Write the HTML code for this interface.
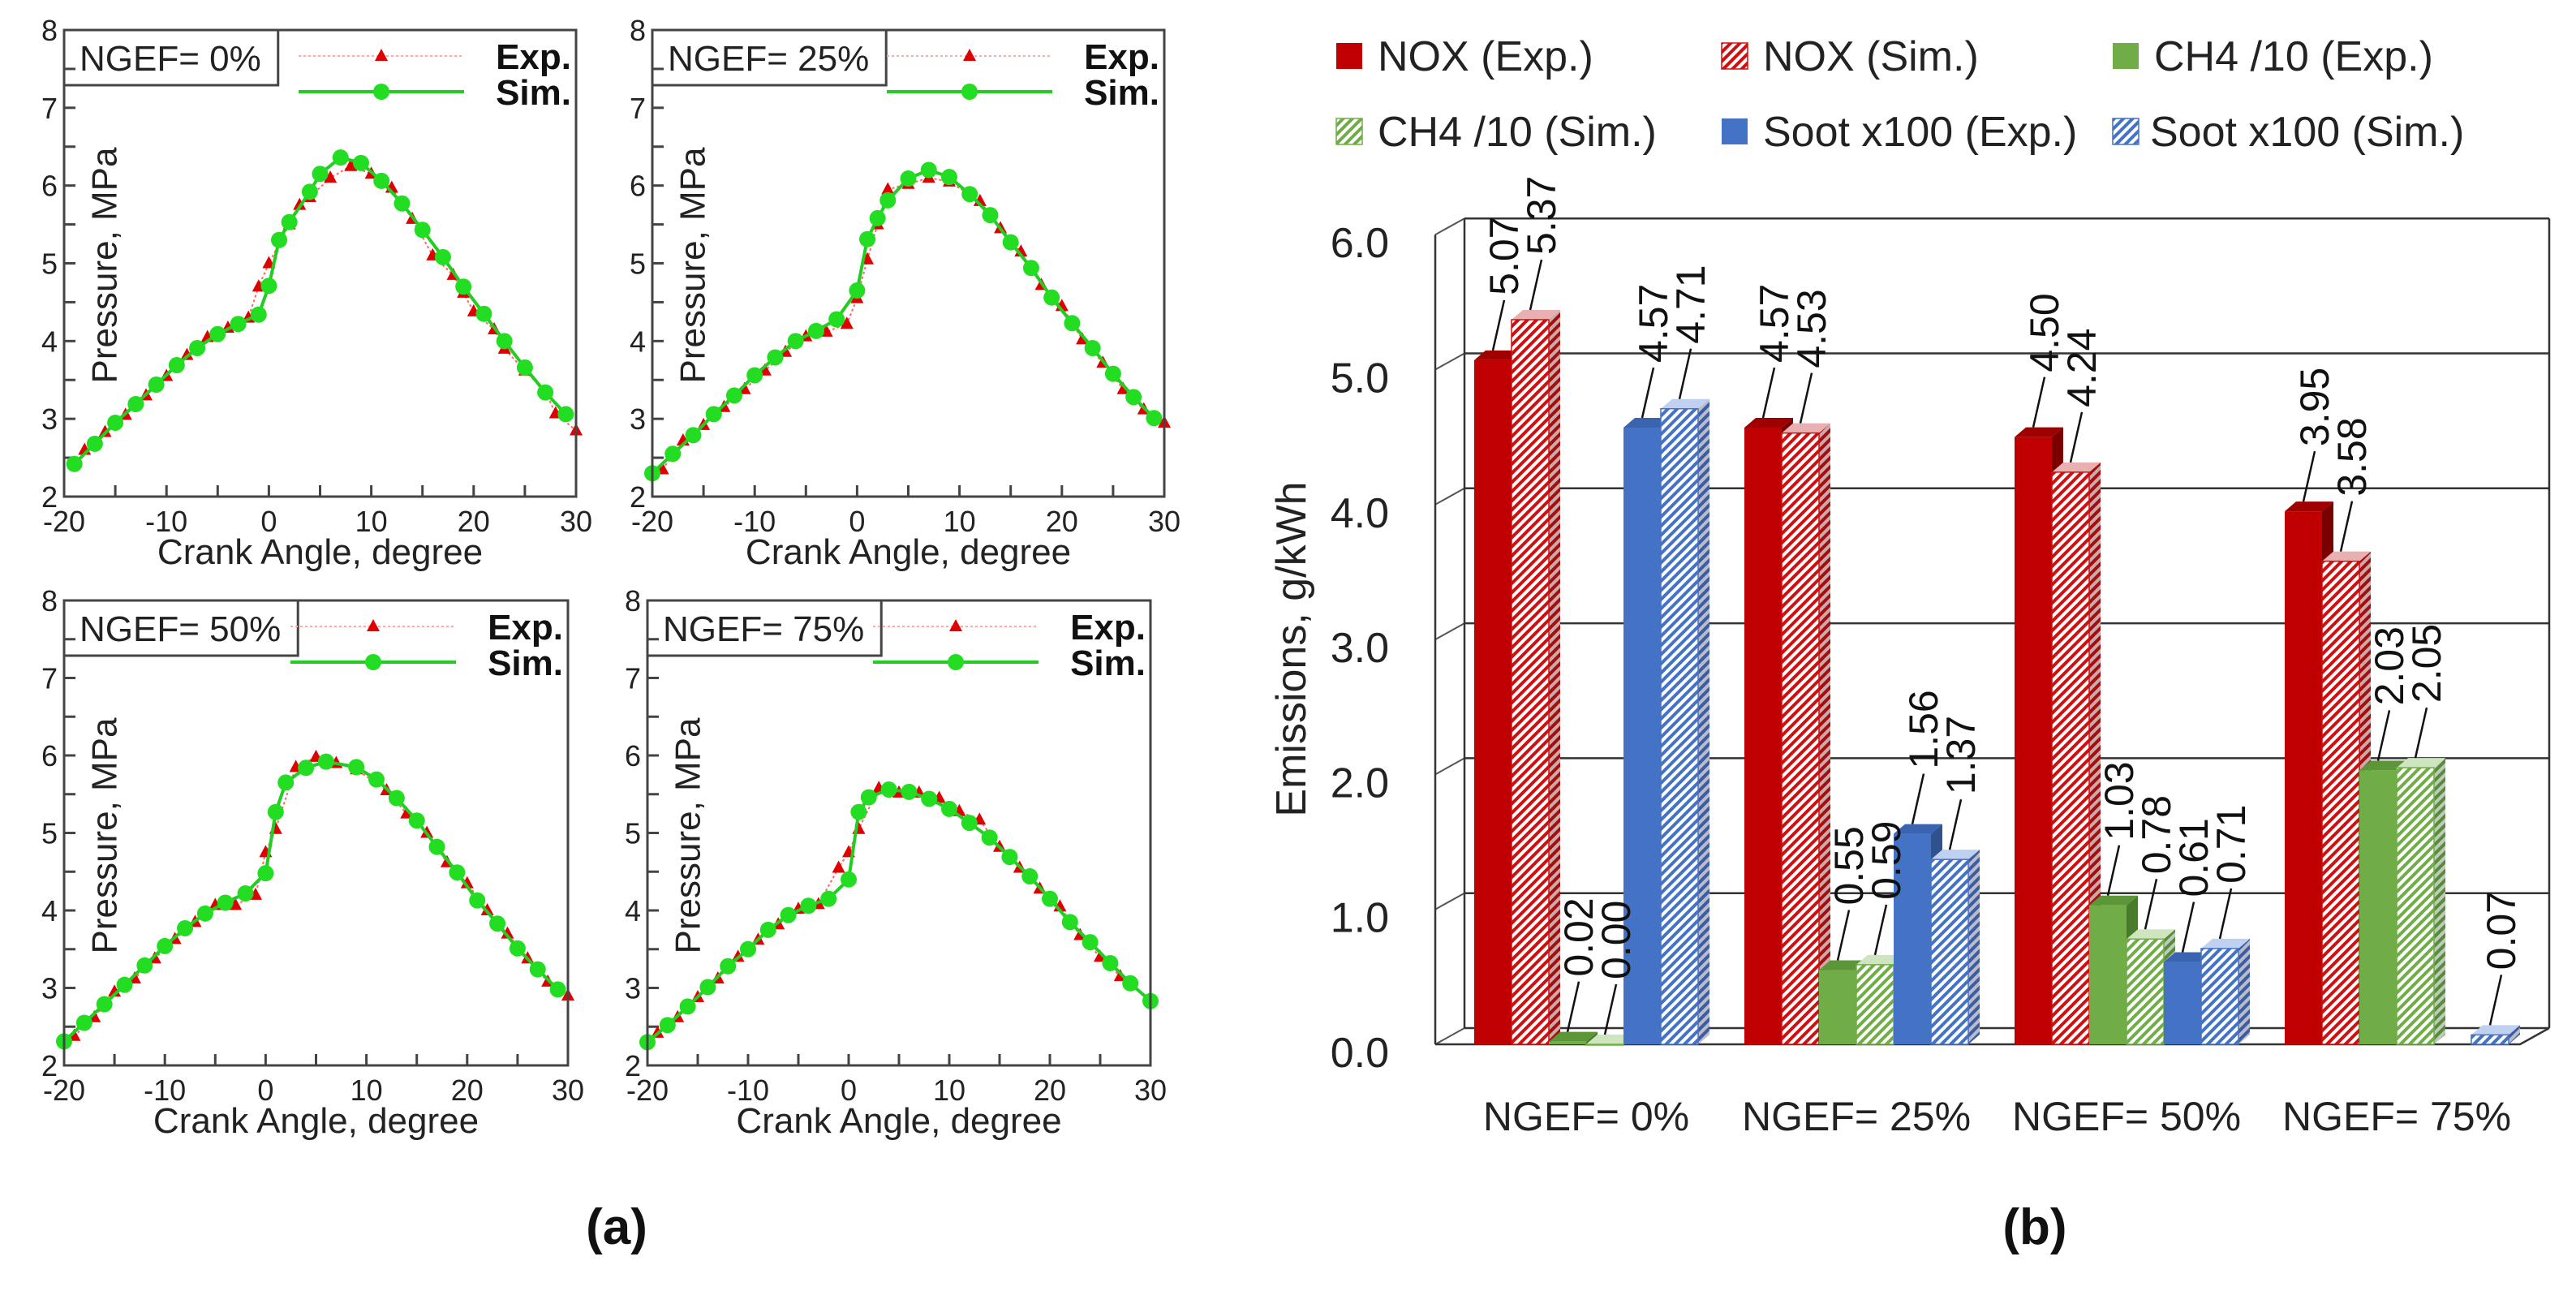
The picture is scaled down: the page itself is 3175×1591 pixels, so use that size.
<!DOCTYPE html>
<html><head><meta charset="utf-8"><style>
html,body{margin:0;padding:0;background:#fff;}
svg{display:block;}
text{font-family:"Liberation Sans",sans-serif;}
</style></head><body>
<svg id="s" width="3175" height="1591" viewBox="0 0 3175 1591" xmlns="http://www.w3.org/2000/svg">
<defs>
<pattern id="hr" patternUnits="userSpaceOnUse" width="8" height="8" patternTransform="rotate(45)"><rect width="8" height="8" fill="#fff"/><rect width="4" height="8" fill="#d01010"/></pattern>
<pattern id="hg" patternUnits="userSpaceOnUse" width="8" height="8" patternTransform="rotate(45)"><rect width="8" height="8" fill="#fff"/><rect width="4" height="8" fill="#70ad47"/></pattern>
<pattern id="hb" patternUnits="userSpaceOnUse" width="8" height="8" patternTransform="rotate(45)"><rect width="8" height="8" fill="#fff"/><rect width="4" height="8" fill="#4472c4"/></pattern>
<pattern id="hrs" patternUnits="userSpaceOnUse" width="8" height="8" patternTransform="rotate(45)"><rect width="8" height="8" fill="#caa"/><rect width="4" height="8" fill="#a01010"/></pattern>
<pattern id="hgs" patternUnits="userSpaceOnUse" width="8" height="8" patternTransform="rotate(45)"><rect width="8" height="8" fill="#bcb"/><rect width="4" height="8" fill="#5a8a3a"/></pattern>
<pattern id="hbs" patternUnits="userSpaceOnUse" width="8" height="8" patternTransform="rotate(45)"><rect width="8" height="8" fill="#bbc"/><rect width="4" height="8" fill="#3a5ea0"/></pattern>
</defs>
<g id="left"></g>
<g id="right"></g>
<text x="760" y="1533" font-size="62" font-weight="bold" text-anchor="middle" fill="#111">(a)</text>
<text x="2508" y="1533" font-size="62" font-weight="bold" text-anchor="middle" fill="#111">(b)</text>
</svg>
<script>
// ---------- panel (a) data ----------
const simX0 = [-19,-17,-15,-13,-11,-9,-7,-5,-3,-1,0,1,2,4,5,7,9,11,13,15,17,19,21,23,25,27,29];
const simY0 = [2.42,2.68,2.95,3.19,3.44,3.69,3.91,4.09,4.22,4.34,4.71,5.30,5.53,5.92,6.15,6.36,6.29,6.06,5.77,5.43,5.08,4.70,4.35,4.00,3.66,3.34,3.06];
const expX0 = [-18,-16,-14,-12,-10,-8,-6,-4,-2,-1,0,2,3,4,6,8,10,12,14,16,18,19,20,22,23,25,27,28,30];
const expY0 = [2.60,2.83,3.05,3.30,3.55,3.82,4.05,4.17,4.30,4.70,5.00,5.50,5.75,5.85,6.10,6.25,6.15,5.97,5.57,5.10,4.85,4.62,4.38,4.15,3.90,3.62,3.35,3.07,2.85];
const simX1 = [-20,-18,-16,-14,-12,-10,-8,-6,-4,-2,0,1,2,3,5,7,9,11,13,15,17,19,21,23,25,27,29];
const simY1 = [2.30,2.55,2.79,3.06,3.30,3.56,3.79,4.00,4.13,4.28,4.65,5.31,5.58,5.81,6.09,6.20,6.11,5.89,5.62,5.27,4.94,4.56,4.23,3.91,3.58,3.28,3.01];
const expX1 = [-19,-17,-15,-13,-11,-9,-7,-5,-3,-1,0,1,2,3,5,7,9,12,14,16,18,20,22,24,26,28,30];
const expY1 = [2.35,2.72,2.92,3.15,3.38,3.62,3.86,4.06,4.12,4.22,4.55,5.05,5.50,5.95,6.02,6.10,6.05,5.80,5.45,5.15,4.72,4.45,4.02,3.72,3.38,3.12,2.95];
const simX2 = [-20,-18,-16,-14,-12,-10,-8,-6,-4,-2,0,1,2,4,6,9,11,13,15,17,19,21,23,25,27,29];
const simY2 = [2.31,2.55,2.79,3.04,3.29,3.54,3.77,3.96,4.10,4.22,4.48,5.27,5.65,5.84,5.92,5.85,5.69,5.45,5.16,4.82,4.49,4.13,3.83,3.51,3.24,2.98];
const expX2 = [-19,-17,-15,-13,-11,-9,-7,-5,-3,-1,0,1,3,5,7,9,12,14,16,18,20,22,24,26,28,30];
const expY2 = [2.38,2.62,2.95,3.12,3.38,3.63,3.85,4.07,4.07,4.20,4.75,5.05,5.85,5.98,5.90,5.82,5.55,5.25,5.00,4.62,4.35,4.00,3.70,3.38,3.08,2.90];
const simX3 = [-20,-18,-16,-14,-12,-10,-8,-6,-4,-2,0,1,2,4,6,8,10,12,14,16,18,20,22,24,26,28,30];
const simY3 = [2.30,2.52,2.76,3.01,3.28,3.50,3.75,3.94,4.06,4.15,4.40,5.27,5.46,5.56,5.53,5.44,5.31,5.13,4.94,4.69,4.44,4.15,3.85,3.59,3.32,3.06,2.83];
const expX3 = [-19,-17,-15,-13,-11,-9,-7,-5,-3,-1,0,1,3,5,7,9,11,13,15,17,19,21,23,25,27];
const expY3 = [2.42,2.62,2.88,3.12,3.40,3.62,3.82,4.02,4.08,4.55,4.75,5.05,5.58,5.52,5.52,5.45,5.28,5.17,4.82,4.55,4.28,4.05,3.68,3.40,3.15];
const xTicks = [-20,-10,0,10,20,30];
const yTicks = [2,3,4,5,6,7,8];

// ---------- panel (b) data ----------
const groups = ["NGEF= 0%","NGEF= 25%","NGEF= 50%","NGEF= 75%"];
const seriesNames = ["NOX (Exp.)","NOX (Sim.)","CH4 /10 (Exp.)","CH4 /10 (Sim.)","Soot x100 (Exp.)","Soot x100 (Sim.)"];
const noxExp = [5.07,4.57,4.50,3.95];
const noxSim = [5.37,4.53,4.24,3.58];
const ch4Exp = [0.02,0.55,1.03,2.03];
const ch4Sim = [0.00,0.59,0.78,2.05];
const sootExp = [4.57,1.56,0.61,null];
const sootSim = [4.71,1.37,0.71,0.07];
const eTicks = [0,1,2,3,4,5,6];

const NS="http://www.w3.org/2000/svg";
function mk(tag, attrs, parent){const e=document.createElementNS(NS,tag);for(const k in attrs)e.setAttribute(k,attrs[k]);parent.appendChild(e);return e;}

function pressurePlot(P){
  const g=mk('g',{},document.getElementById('left'));
  
  
  const X=a=>P.x0+(a+20)/50*(P.x1-P.x0);
  const Y=p=>P.y1-(p-2)/6*(P.y1-P.y0);
  for(let a=-20;a<=30;a+=5){const t=mk('line',{x1:X(a),x2:X(a),y1:P.y1,y2:P.y1-14,stroke:'#444','stroke-width':3},g);
    
    }
  for(let p=2;p<=8;p+=0.5){const t=mk('line',{x1:P.x0,x2:P.x0+14,y1:Y(p),y2:Y(p),stroke:'#444','stroke-width':3},g);
    
    }
  xTicks.forEach(a=>{const t=mk('text',{x:X(a),y:P.y1+43,'font-size':36,'text-anchor':'middle',fill:'#222'},g);t.textContent=a;
    
    });
  yTicks.forEach(p=>{const t=mk('text',{x:P.x0-8,y:Y(p)+13,'font-size':36,'text-anchor':'end',fill:'#222'},g);t.textContent=p;
    
    });
  const ePts=P.ex.map((a,i)=>X(a)+','+Y(P.ey[i])).join(' ');
  const el=mk('polyline',{points:ePts,fill:'none',stroke:'#ff6666','stroke-width':2,'stroke-dasharray':'3 3'},g);
  
  
  P.ex.forEach((a,i)=>{const cx=X(a),cy=Y(P.ey[i]);const t=mk('polygon',{points:`${cx},${cy-9} ${cx-8},${cy+6} ${cx+8},${cy+6}`,fill:'#e00000'},g);
    
    });
  const sPts=P.sx.map((a,i)=>X(a)+','+Y(P.sy[i])).join(' ');
  const sl=mk('polyline',{points:sPts,fill:'none',stroke:'#22cc22','stroke-width':4},g);
  
  
  P.sx.forEach((a,i)=>{const c=mk('circle',{cx:X(a),cy:Y(P.sy[i]),r:10,fill:'#22dd22'},g);
    
    });
  const fr=mk('rect',{x:P.x0,y:P.y0,width:P.x1-P.x0,height:P.y1-P.y0,fill:'none',stroke:'#444','stroke-width':3},g);
  
  
  const lt=mk('text',{x:P.x0+19,y:P.y0+50,'font-size':44,fill:'#222'},g);lt.textContent=P.label;
  
  
  const w=lt.getComputedTextLength()+40;
  const lb=mk('rect',{x:P.x0,y:P.y0,width:w,height:68,fill:'none',stroke:'#444','stroke-width':3},g);
  
  
  const le=P.x1-138, ls=le-204, lm=(le+ls)/2;
  const l1=mk('line',{x1:ls,x2:le,y1:P.y0+32,y2:P.y0+32,stroke:'#ffaaaa','stroke-width':2,'stroke-dasharray':'3 3'},g);
  
  
  const lp=mk('polygon',{points:`${lm},${P.y0+23} ${lm-8},${P.y0+38} ${lm+8},${P.y0+38}`,fill:'#e00000'},g);
  
  
  const l2=mk('line',{x1:ls,x2:le,y1:P.y0+76,y2:P.y0+76,stroke:'#22cc22','stroke-width':4},g);
  
  
  const lc=mk('circle',{cx:lm,cy:P.y0+76,r:10,fill:'#22dd22'},g);
  
  
  const t1=mk('text',{x:P.x1-6,y:P.y0+48,'font-size':44,'font-weight':'bold','text-anchor':'end',fill:'#111'},g);t1.textContent='Exp.';
  
  
  const t2=mk('text',{x:P.x1-6,y:P.y0+92,'font-size':44,'font-weight':'bold','text-anchor':'end',fill:'#111'},g);t2.textContent='Sim.';
  
  
  const xt=mk('text',{x:(P.x0+P.x1)/2,y:P.y1+83,'font-size':44,'text-anchor':'middle',fill:'#222'},g);xt.textContent='Crank Angle, degree';
  
  
  const cy=P.y0+290, cx=P.x0+50;
  const yt=mk('text',{x:cx,y:cy,'font-size':44,'text-anchor':'middle',fill:'#222',transform:`rotate(-90 ${cx} ${cy})`,'dominant-baseline':'central'},g);yt.textContent='Pressure, MPa';
  
  
}
pressurePlot({name:'plot-ngef-0',x0:79,x1:710,y0:37,y1:612,label:'NGEF= 0%',sx:simX0,sy:simY0,ex:expX0,ey:expY0});
pressurePlot({name:'plot-ngef-25',x0:804,x1:1435,y0:37,y1:612,label:'NGEF= 25%',sx:simX1,sy:simY1,ex:expX1,ey:expY1});
pressurePlot({name:'plot-ngef-50',x0:79,x1:700,y0:740,y1:1313,label:'NGEF= 50%',sx:simX2,sy:simY2,ex:expX2,ey:expY2});
pressurePlot({name:'plot-ngef-75',x0:798,x1:1418,y0:740,y1:1313,label:'NGEF= 75%',sx:simX3,sy:simY3,ex:expX3,ey:expY3});

// ---------- panel (b) ----------
(function(){
  const g=document.getElementById('right');
  const base=1287, k=166.3, ax=1769, wdx=36, wdy=-20, right=3106;
  const V=v=>base-v*k;
  const fills=['#c00000','url(#hr)','#70ad47','url(#hg)','#4472c4','url(#hb)'];
  const sides=['#7a0000','url(#hrs)','#4a7a2c','url(#hgs)','#2f528f','url(#hbs)'];
  const tops=['#a00000','#e8b0b0','#5d9638','#cfe5c0','#3a64b0','#c0d0f0'];
  const strokes=['none','#d01010','none','#70ad47','none','#4472c4'];
  eTicks.forEach(v=>{
    const l=mk('line',{x1:ax+wdx,x2:right+wdx,y1:V(v)+wdy,y2:V(v)+wdy,stroke:'#333','stroke-width':2.5},g);
    
    
    const d=mk('line',{x1:ax,x2:ax+wdx,y1:V(v),y2:V(v)+wdy,stroke:'#555','stroke-width':2},g);
    
    
    const t=mk('text',{x:1712,y:V(v)+28,'font-size':52,'text-anchor':'end',fill:'#222'},g);t.textContent=v.toFixed(1);
    
    
  });
  const w1=mk('line',{x1:ax,x2:ax,y1:V(6),y2:base,stroke:'#333','stroke-width':2.5},g);
  
  
  const w2=mk('line',{x1:ax+wdx,x2:ax+wdx,y1:V(6)+wdy,y2:base+wdy,stroke:'#333','stroke-width':2.5},g);
  
  
  const w3=mk('line',{x1:right+wdx,x2:right+wdx,y1:V(6)+wdy,y2:base+wdy,stroke:'#333','stroke-width':2.5},g);
  
  
  const f1=mk('polyline',{points:`${ax},${base} ${right},${base} ${right+wdx},${base+wdy}`,fill:'none',stroke:'#333','stroke-width':2.5},g);
  
  
  const series=[noxExp,noxSim,ch4Exp,ch4Sim,sootExp,sootSim];
  const bw=46, gs=1817, gstep=333, ddx=14, ddy=-12;
  groups.forEach((name,gi)=>{
    series.forEach((arr,si)=>{
      const v=arr[gi]; if(v===null||v===undefined) return;
      const x=gs+gi*gstep+si*bw, y=V(v), h=base-y;
      const bg=mk('g',{},g);
      
      
      mk('polygon',{points:`${x+bw},${y} ${x+bw+ddx},${y+ddy} ${x+bw+ddx},${base+ddy} ${x+bw},${base}`,fill:sides[si]},bg);
      mk('polygon',{points:`${x},${y} ${x+ddx},${y+ddy} ${x+bw+ddx},${y+ddy} ${x+bw},${y}`,fill:tops[si]},bg);
      mk('rect',{x:x,y:y,width:bw,height:Math.max(h,1),fill:fills[si],stroke:strokes[si],'stroke-width':1.5},bg);
    });
  });
  groups.forEach((name,gi)=>{
    series.forEach((arr,si)=>{
      const v=arr[gi]; if(v===null||v===undefined) return;
      const cx=gs+gi*gstep+si*bw+bw/2, y=V(v)+ddy;
      const lx=cx+14, lb=y-68;
      const ln=mk('line',{x1:cx,y1:y,x2:lx,y2:lb+6,stroke:'#111','stroke-width':2.5},g);
      
      
      const t=mk('text',{x:lx,y:lb,'font-size':50,fill:'#111','dominant-baseline':'central',transform:`rotate(-90 ${lx} ${lb})`},g);
      t.textContent=v.toFixed(2);
      
      
    });
    const c=mk('text',{x:gs+gi*gstep+3*bw,y:1393,'font-size':50,'text-anchor':'middle',fill:'#222'},g);c.textContent=name;
    
    
  });
  const yt=mk('text',{x:1592,y:800,'font-size':52,'text-anchor':'middle','dominant-baseline':'central',fill:'#222',transform:'rotate(-90 1592 800)'},g);
  yt.textContent='Emissions, g/kWh';
  
  
  const lx=[1647,2122,2604], ly=[69,162];
  seriesNames.forEach((n,i)=>{
    const r=Math.floor(i/3), c=i%3;
    const lg=mk('g',{},g);
    
    
    mk('rect',{x:lx[c],y:ly[r]-16,width:32,height:32,fill:fills[i],stroke:strokes[i],'stroke-width':1.5},lg);
    const t=mk('text',{x:lx[c]+(r===1&&c===2?46:51),y:ly[r]+18,'font-size':52,fill:'#222'},lg);t.textContent=n;
  });
})();
</script>
</body></html>
